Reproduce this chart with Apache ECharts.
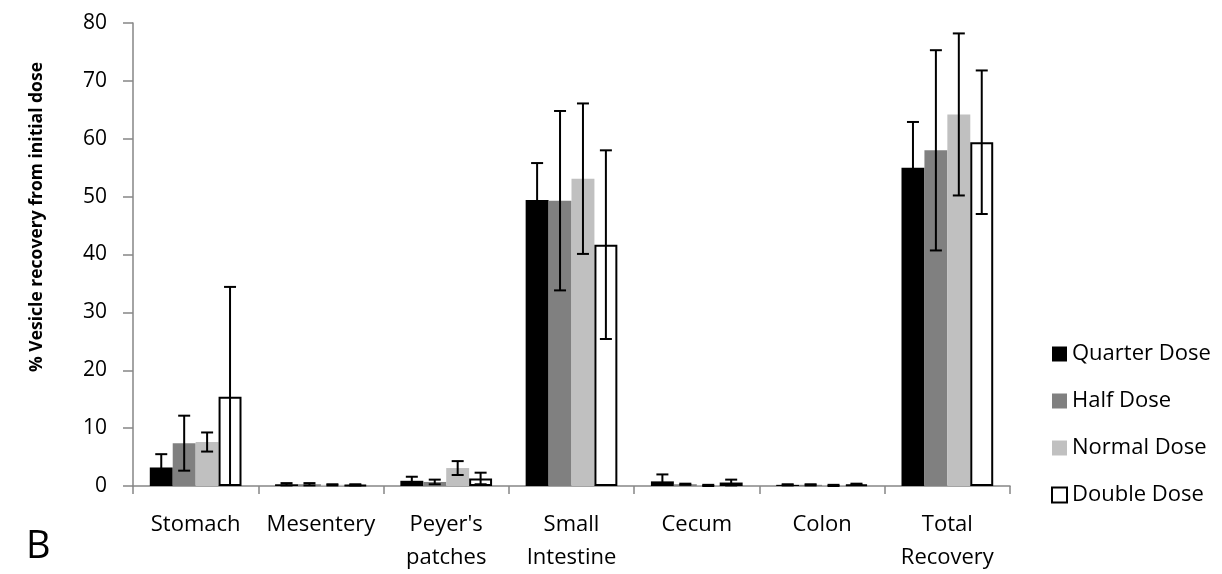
<!DOCTYPE html>
<html>
<head>
<meta charset="utf-8">
<script src="https://cdn.jsdelivr.net/npm/echarts@6/dist/echarts.min.js"></script>
<style>
html,body{margin:0;padding:0;background:#fff;}
#chart{width:1222px;height:574px;}
</style>
</head>
<body>
<div id="chart"></div>
<script>
const categories = ['Stomach', 'Mesentery', "Peyer's\npatches", 'Small\nIntestine', 'Cecum', 'Colon', 'Total\nRecovery'];
const seriesNames = ['Quarter Dose', 'Half Dose', 'Normal Dose', 'Double Dose'];
const quarter    = [3.2, 0.3, 0.9, 49.4, 0.8, 0.2, 55.0];
const quarterErr = [2.3, 0.2, 0.7, 6.4, 1.2, 0.1, 7.9];
const half       = [7.4, 0.3, 0.7, 49.3, 0.3, 0.2, 58.0];
const halfErr    = [4.75, 0.2, 0.4, 15.5, 0.1, 0.1, 17.3];
const normal     = [7.6, 0.2, 3.1, 53.1, 0.1, 0.1, 64.2];
const normalErr  = [1.65, 0.1, 1.2, 13.0, 0.1, 0.1, 14.0];
const double     = [15.4, 0.2, 1.3, 41.7, 0.6, 0.3, 59.4];
const doubleErr  = [19.0, 0.1, 1.0, 16.3, 0.5, 0.1, 12.4];
const yTicks = { min: 0, max: 80, interval: 10 };

const FONT = "'Open Sans', 'Liberation Sans', sans-serif";
const colors = ['#000000', '#808080', '#c0c0c0', '#ffffff'];
const GAP = 0.268;
const values = [quarter, half, normal, double];
const errs = [quarterErr, halfErr, normalErr, doubleErr];

const chart = echarts.init(document.getElementById('chart'), null, { renderer: 'canvas' });

const barSeries = seriesNames.map((name, k) => ({
  name: name,
  type: 'bar',
  data: values[k],
  barGap: '0%',
  barCategoryGap: (GAP * 100) + '%',
  itemStyle: k === 3
    ? { color: '#ffffff', borderColor: '#000000', borderWidth: 2 }
    : { color: colors[k] },
  emphasis: { disabled: true },
  z: 2
}));

const errSeries = seriesNames.map((name, k) => ({
  name: name + ' err',
  type: 'custom',
  z: 5,
  clip: false,
  encode: { x: 0, y: 1 },
  data: values[k].map((v, i) => [i, v, errs[k][i]]),
  renderItem: function (params, api) {
    const i = api.value(0), v = api.value(1), e = api.value(2);
    const catW = api.size([1, 0])[0];
    const barW = catW * (1 - GAP) / 4;
    const x = api.coord([i, 0])[0] + (k - 1.5) * barW;
    const hi = api.coord([i, v + e])[1];
    const lowV = v - e;
    const lo = api.coord([i, Math.max(lowV, 0)])[1];
    const cap = 6;
    const style = { stroke: '#000', lineWidth: 2 };
    const children = [
      { type: 'line', shape: { x1: x, y1: hi, x2: x, y2: lo }, style: style },
      { type: 'line', shape: { x1: x - cap, y1: hi, x2: x + cap, y2: hi }, style: style }
    ];
    if (lowV >= 0) {
      children.push({ type: 'line', shape: { x1: x - cap, y1: lo, x2: x + cap, y2: lo }, style: style });
    }
    return { type: 'group', children: children };
  }
}));

chart.setOption({
  animation: false,
  backgroundColor: '#ffffff',
  textStyle: { fontFamily: FONT },
  grid: { left: 133, right: 212, top: 23, bottom: 81.5, containLabel: false },
  legend: {
    data: seriesNames,
    orient: 'vertical',
    left: 1046,
    top: 338,
    itemWidth: 15,
    itemHeight: 15,
    itemGap: 25,
    icon: 'rect',
    selectedMode: false,
    textStyle: { fontFamily: FONT, fontSize: 22, color: '#000', lineHeight: 22 }
  },
  xAxis: {
    type: 'category',
    data: categories,
    axisLine: { lineStyle: { color: '#868686', width: 1.5 } },
    axisTick: { show: true, length: 8, lineStyle: { color: '#868686', width: 1.5 } },
    axisLabel: { fontFamily: FONT, fontSize: 22, color: '#000', margin: 22, lineHeight: 33, interval: 0 }
  },
  yAxis: {
    type: 'value',
    min: yTicks.min,
    max: yTicks.max,
    interval: yTicks.interval,
    splitLine: { show: false },
    axisLine: { show: true, lineStyle: { color: '#868686', width: 1.5 } },
    axisTick: { show: true, length: 10, lineStyle: { color: '#868686', width: 1.5 } },
    axisLabel: { fontFamily: FONT, fontSize: 21, color: '#000', margin: 26 }
  },
  graphic: [
    {
      type: 'text',
      x: 37, y: 217,
      rotation: Math.PI / 2,
      style: {
        text: '% Vesicle recovery from initial dose',
        font: 'bold 17.5px ' + FONT,
        fill: '#000',
        textAlign: 'center',
        textVerticalAlign: 'middle'
      }
    },
    {
      type: 'text',
      x: 26, y: 547,
      style: {
        text: 'B',
        font: '38px ' + FONT,
        fill: '#000',
        textAlign: 'left',
        textVerticalAlign: 'middle'
      }
    }
  ],
  series: barSeries.concat(errSeries)
});
</script>
</body>
</html>
